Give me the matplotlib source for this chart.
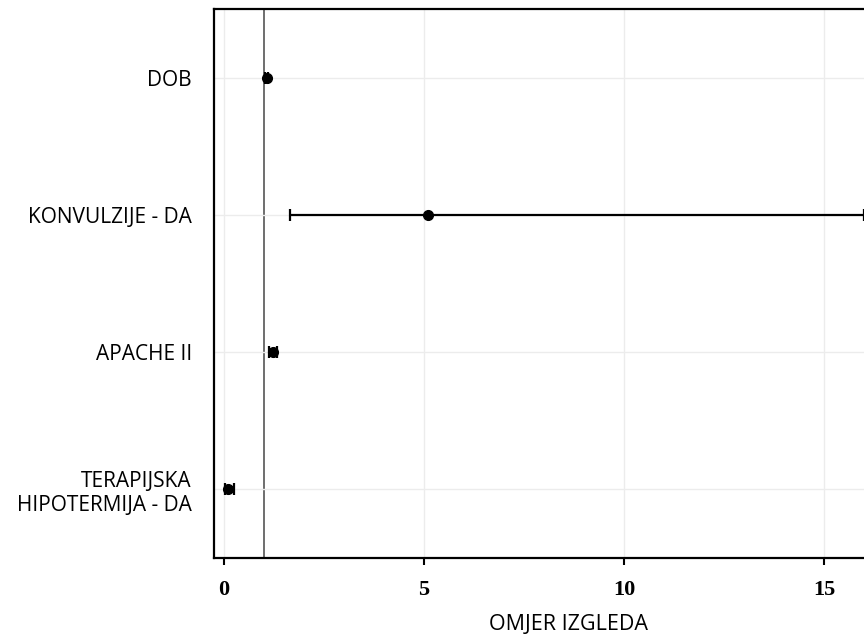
import numpy as np
import matplotlib.pyplot as plt

labels = ["DOB", "KONVULZIJE - DA", "APACHE II", "TERAPIJSKA\nHIPOTERMIJA - DA"]
odds = [1.07, 5.1, 1.22, 0.1]
ci_low = [1.03, 1.65, 1.12, 0.03]
ci_high = [1.11, 16.0, 1.33, 0.25]

ypos = np.arange(len(labels), 0, -1)
err = [np.array(odds) - np.array(ci_low), np.array(ci_high) - np.array(odds)]

fig = plt.figure(figsize=(8.64, 6.36), dpi=100)
ax = fig.add_axes([0.2477, 0.1226, 0.7523, 0.8632])

ax.grid(True, color="#ececec", linewidth=1.0, zorder=0)
ax.axvline(1, color="#555555", linewidth=1.2, zorder=1)
ax.errorbar(odds, ypos, xerr=err, fmt="o", color="black", ms=7,
            elinewidth=1.6, capsize=4, capthick=1.6, zorder=3)

ax.set_xlim(-0.25, 16.0)
ax.set_ylim(0.5, 4.5)
ax.set_xticks([0, 5, 10, 15])
ax.set_xticklabels(["0", "5", "10", "15"], fontfamily="Liberation Serif",
                   fontsize=16, fontweight="bold")
ax.set_yticks(ypos)
ax.set_yticklabels(labels, fontfamily="Open Sans", fontsize=15, linespacing=1.2)
ax.tick_params(axis="y", length=0, pad=16)
ax.tick_params(axis="x", length=5, width=1.5, pad=11)
ax.set_xlabel("OMJER IZGLEDA", fontfamily="Open Sans", fontsize=15.5, labelpad=10)
ax.xaxis.label.set_x(0.545)

for s in ["left", "bottom", "top"]:
    ax.spines[s].set_linewidth(1.6)
ax.spines["right"].set_visible(False)

fig.savefig("out.png", dpi=100)
